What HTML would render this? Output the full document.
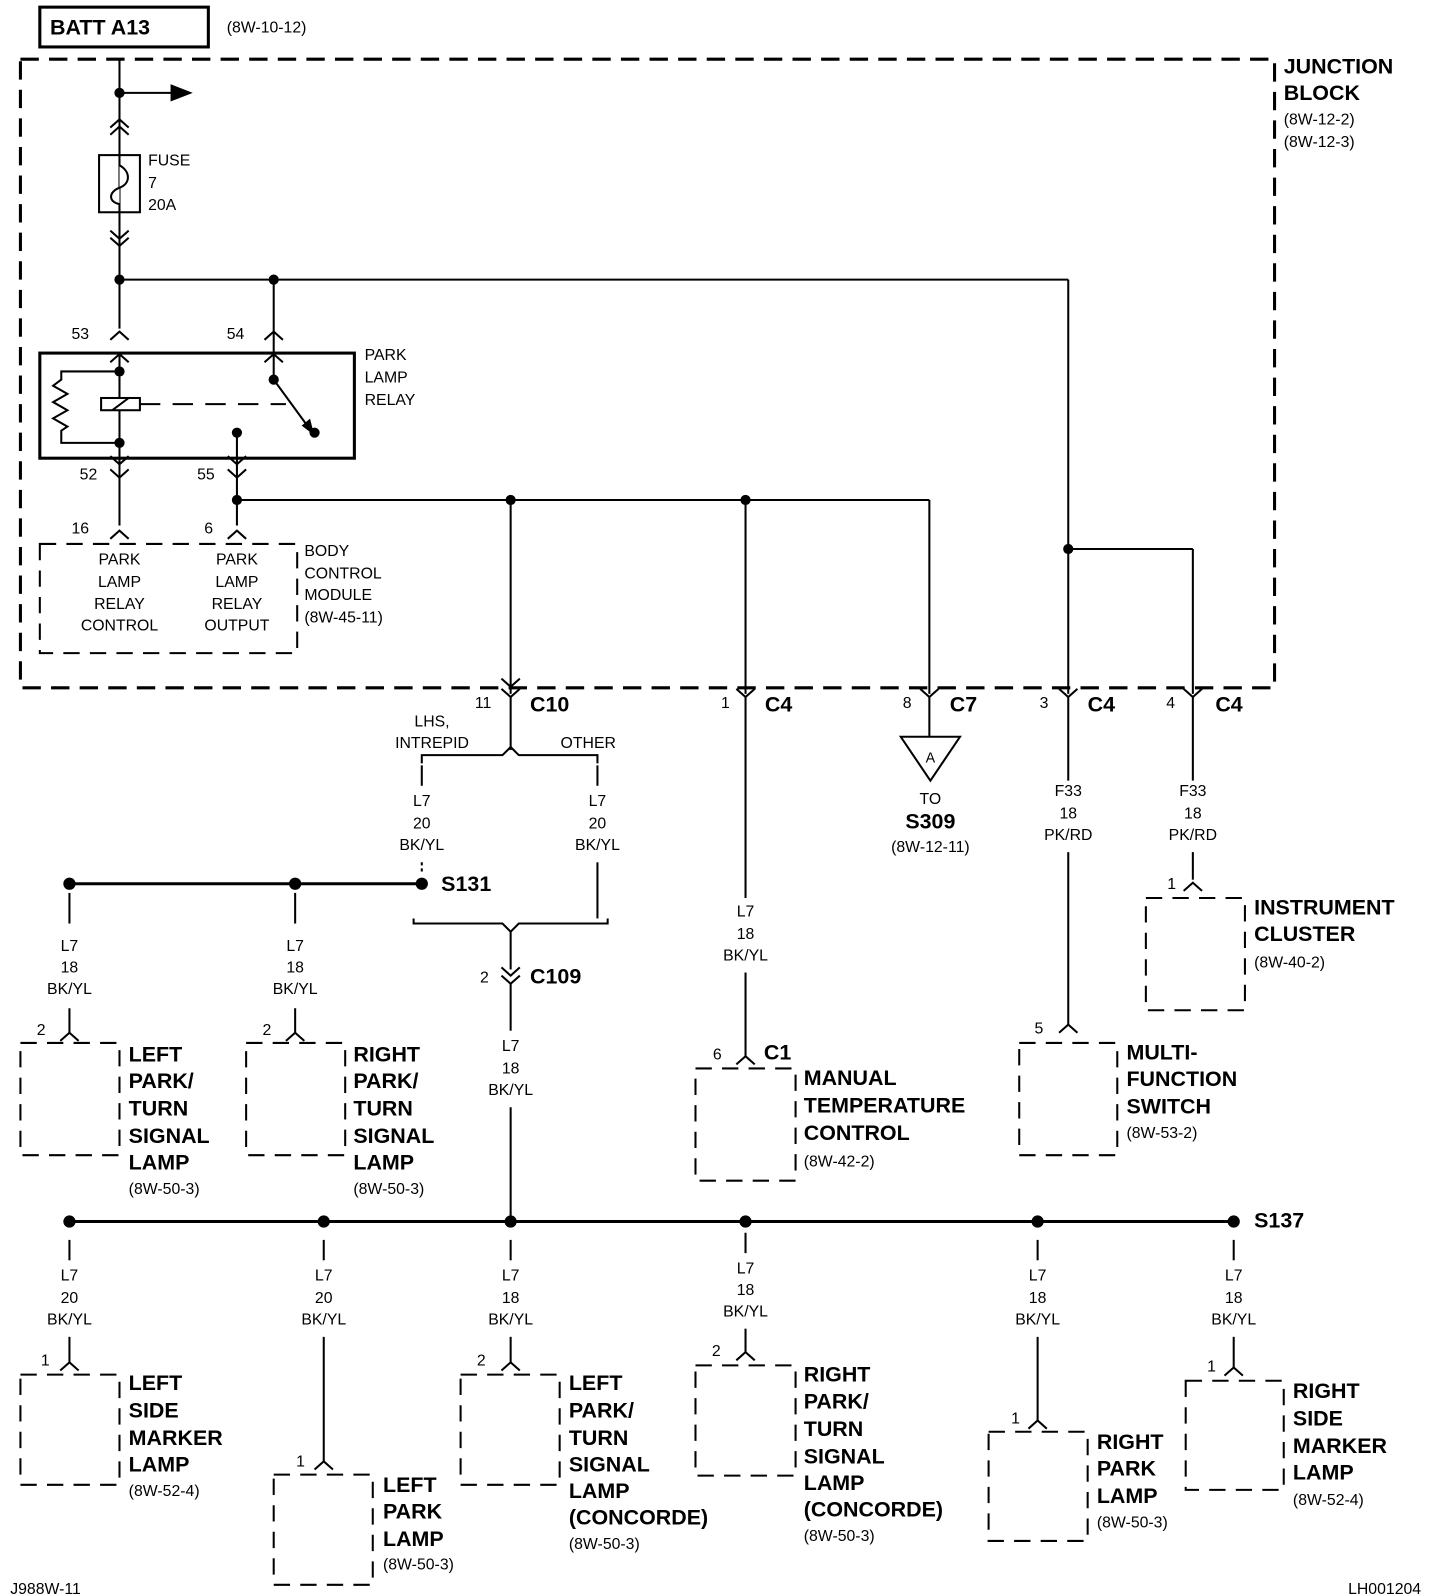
<!DOCTYPE html>
<html><head><meta charset="utf-8"><style>
html,body{margin:0;padding:0;background:#fff;}
svg{display:block;}
text{font-family:"Liberation Sans",Arial,sans-serif;fill:#000;}
.b{font-weight:bold;font-size:21px;}
.s{font-size:15.5px;}
.c{text-anchor:middle;}
</style></head><body>
<svg width="1440" height="1594" viewBox="0 0 1410 1562" preserveAspectRatio="none" xmlns="http://www.w3.org/2000/svg">
<g stroke="#000" fill="none" stroke-width="2">
<!-- BATT box -->
<rect x="39" y="7" width="165" height="39" stroke-width="3"/>
<!-- junction block -->
<rect x="20" y="58" width="1228" height="616" stroke-width="3" stroke-dasharray="18 10"/>
<!-- main feed -->
<line x1="117" y1="58" x2="117" y2="322"/>
<line x1="117" y1="91" x2="170" y2="91"/>
<polygon points="168,84 186,91 168,98" fill="#000"/>
<polyline points="108,125 117,117 126,125"/><polyline points="108,132 117,124 126,132"/>
<rect x="97" y="152" width="40" height="56"/>
<path d="M117 152 V162 C128 168,128 180,117 184 C106 188,106 198,117 200 V208" fill="#fff"/>
<polyline points="108,226 117,234 126,226"/><polyline points="108,233 117,241 126,233"/>
<line x1="117" y1="274" x2="1046" y2="274"/>
<line x1="268" y1="274" x2="268" y2="340"/>
<line x1="1046" y1="274" x2="1046" y2="680"/>
<polyline points="108,333 117,325 126,333"/><polyline points="259,333 268,325 277,333"/>
<!-- relay -->
<rect x="39" y="346" width="308" height="103" stroke-width="3"/>
<line x1="117" y1="346" x2="117" y2="455"/>
<polyline points="108,355 117,347 126,355"/><polyline points="259,355 268,347 277,355"/>
<polyline points="117,364 60,364 60,372 52,378 66,386 52,394 66,402 52,410 66,418 60,422 60,434 117,434"/>
<rect x="99" y="390" width="38" height="12" fill="#fff"/>
<line x1="110" y1="402" x2="126" y2="390"/>
<line x1="137" y1="396" x2="280" y2="396" stroke-dasharray="20 12"/>
<line x1="268" y1="340" x2="268" y2="372"/>
<line x1="268" y1="372" x2="303" y2="420"/>
<polygon points="297,417 306,424 303,412" fill="#000"/>
<line x1="232" y1="424" x2="232" y2="515"/>
<polyline points="108,447 117,455 126,447"/><polyline points="223,447 232,455 241,447"/>
<polyline points="108,460 117,468 126,460"/><polyline points="223,460 232,468 241,460"/>
<line x1="117" y1="455" x2="117" y2="515"/>
<polyline points="108,528 117,520 126,528"/><polyline points="223,528 232,520 241,528"/>
<rect x="39" y="533" width="252" height="107" stroke-dasharray="16 10"/>
<!-- BCM output bus -->
<line x1="232" y1="490" x2="910" y2="490"/>
<line x1="500" y1="490" x2="500" y2="680"/>
<line x1="730" y1="490" x2="730" y2="680"/>
<line x1="910" y1="490" x2="910" y2="680"/>
<line x1="1046" y1="538" x2="1168" y2="538"/>
<line x1="1168" y1="538" x2="1168" y2="680"/>
<!-- bottom connectors -->
<polyline points="491,665 500,673 509,665"/><polyline points="491,675 500,683 509,675"/>
<polyline points="721,675 730,683 739,675"/>
<polyline points="901,675 910,683 919,675"/>
<polyline points="1037,675 1046,683 1055,675"/>
<polyline points="1159,675 1168,683 1177,675"/>
<line x1="730" y1="683" x2="730" y2="880"/>
<line x1="910" y1="683" x2="910" y2="722"/>
<polygon points="882,722 940,722 911,765"/>
<line x1="1046" y1="683" x2="1046" y2="765"/>
<line x1="1046" y1="835" x2="1046" y2="1005"/>
<line x1="1168" y1="683" x2="1168" y2="765"/>
<line x1="1168" y1="835" x2="1168" y2="862"/>
<polyline points="1037,1012 1046,1004 1055,1012"/>
<polyline points="1159,873 1168,865 1177,873"/>
<rect x="998" y="1022" width="96" height="110" stroke-dasharray="16 10"/>
<rect x="1122" y="880" width="97" height="110" stroke-dasharray="16 10"/>
<!-- C10 split -->
<line x1="500" y1="683" x2="500" y2="735"/>
<path d="M413 748 V740 H492 L500 732 L508 740 H585 V748"/>
<line x1="413" y1="750" x2="413" y2="770"/><line x1="585" y1="750" x2="585" y2="770"/>
<line x1="413" y1="845" x2="413" y2="855" stroke-dasharray="3 3"/>
<line x1="585" y1="845" x2="585" y2="900"/>
<path d="M405 900 V905 H492 L500 913 L508 905 H595 V900"/>
<line x1="500" y1="913" x2="500" y2="950"/>
<polyline points="491,948 500,956 509,948"/><polyline points="491,956 500,964 509,956"/>
<line x1="500" y1="964" x2="500" y2="1010"/>
<line x1="500" y1="1085" x2="500" y2="1197"/>
<!-- S131 -->
<line x1="68" y1="866" x2="413" y2="866" stroke-width="3"/>
<line x1="68" y1="875" x2="68" y2="905"/><line x1="289" y1="875" x2="289" y2="905"/>
<line x1="68" y1="988" x2="68" y2="1012"/><line x1="289" y1="988" x2="289" y2="1012"/>
<polyline points="59,1020 68,1012 77,1020"/><polyline points="280,1020 289,1012 298,1020"/>
<rect x="20" y="1022" width="97" height="110" stroke-dasharray="16 10"/>
<rect x="241" y="1022" width="97" height="110" stroke-dasharray="16 10"/>
<!-- C1 -->
<line x1="730" y1="953" x2="730" y2="1035"/>
<polyline points="721,1043 730,1035 739,1043"/>
<rect x="681" y="1047" width="98" height="110" stroke-dasharray="16 10"/>
<!-- S137 bus -->
<line x1="68" y1="1197" x2="1208" y2="1197" stroke-width="3"/>
<line x1="68" y1="1215" x2="68" y2="1235"/><line x1="317" y1="1215" x2="317" y2="1235"/>
<line x1="500" y1="1215" x2="500" y2="1235"/><line x1="730" y1="1208" x2="730" y2="1228"/>
<line x1="1016" y1="1215" x2="1016" y2="1235"/><line x1="1208" y1="1215" x2="1208" y2="1235"/>
<line x1="68" y1="1310" x2="68" y2="1335"/>
<line x1="317" y1="1310" x2="317" y2="1432"/>
<line x1="500" y1="1310" x2="500" y2="1335"/>
<line x1="730" y1="1302" x2="730" y2="1325"/>
<line x1="1016" y1="1310" x2="1016" y2="1392"/>
<line x1="1208" y1="1310" x2="1208" y2="1340"/>
<polyline points="59,1343 68,1335 77,1343"/>
<polyline points="308,1440 317,1432 326,1440"/>
<polyline points="491,1343 500,1335 509,1343"/>
<polyline points="721,1333 730,1325 739,1333"/>
<polyline points="1007,1400 1016,1392 1025,1400"/>
<polyline points="1199,1348 1208,1340 1217,1348"/>
<rect x="20" y="1347" width="97" height="108" stroke-dasharray="16 10"/>
<rect x="268" y="1445" width="97" height="108" stroke-dasharray="16 10"/>
<rect x="451" y="1347" width="97" height="108" stroke-dasharray="16 10"/>
<rect x="681" y="1338" width="98" height="108" stroke-dasharray="16 10"/>
<rect x="968" y="1403" width="97" height="107" stroke-dasharray="16 10"/>
<rect x="1161" y="1353" width="96" height="107" stroke-dasharray="16 10"/>
</g>
<g fill="#000">
<circle cx="117" cy="91" r="5"/><circle cx="117" cy="274" r="5"/><circle cx="268" cy="274" r="5"/>
<circle cx="117" cy="364" r="5"/><circle cx="117" cy="434" r="5"/><circle cx="268" cy="372" r="5"/>
<circle cx="308" cy="424" r="5"/><circle cx="232" cy="424" r="5"/>
<circle cx="232" cy="490" r="5"/><circle cx="500" cy="490" r="5"/><circle cx="730" cy="490" r="5"/><circle cx="1046" cy="538" r="5"/>
<circle cx="68" cy="866" r="6"/><circle cx="289" cy="866" r="6"/><circle cx="413" cy="866" r="6"/>
<circle cx="68" cy="1197" r="6"/><circle cx="317" cy="1197" r="6"/><circle cx="500" cy="1197" r="6"/>
<circle cx="730" cy="1197" r="6"/><circle cx="1016" cy="1197" r="6"/><circle cx="1208" cy="1197" r="6"/>
</g>
<text class="b" x="49" y="34">BATT A13</text>
<text class="s" x="222" y="32">(8W-10-12)</text>
<text class="b" x="1257" y="72">JUNCTION</text><text class="b" x="1257" y="98">BLOCK</text>
<text class="s" x="1257" y="122">(8W-12-2)</text><text class="s" x="1257" y="144">(8W-12-3)</text>
<text class="s" x="145" y="162">FUSE</text><text class="s" x="145" y="184">7</text><text class="s" x="145" y="206">20A</text>
<text class="s" x="70" y="332">53</text><text class="s" x="222" y="332">54</text>
<text class="s" x="357" y="353">PARK</text><text class="s" x="357" y="375">LAMP</text><text class="s" x="357" y="397">RELAY</text>
<text class="s" x="78" y="470">52</text><text class="s" x="193" y="470">55</text>
<text class="s" x="70" y="523">16</text><text class="s" x="200" y="523">6</text>
<g class="s c">
<text class="s c" x="117" y="553">PARK</text><text class="s c" x="117" y="575">LAMP</text><text class="s c" x="117" y="597">RELAY</text><text class="s c" x="117" y="618">CONTROL</text>
<text class="s c" x="232" y="553">PARK</text><text class="s c" x="232" y="575">LAMP</text><text class="s c" x="232" y="597">RELAY</text><text class="s c" x="232" y="618">OUTPUT</text>
</g>
<text class="s" x="298" y="545">BODY</text><text class="s" x="298" y="567">CONTROL</text><text class="s" x="298" y="588">MODULE</text><text class="s" x="298" y="610">(8W-45-11)</text>
<text class="s" x="465" y="694">11</text><text class="b" x="519" y="697">C10</text>
<text class="s" x="706" y="694">1</text><text class="b" x="749" y="697">C4</text>
<text class="s" x="884" y="694">8</text><text class="b" x="930" y="697">C7</text>
<text class="s" x="1018" y="694">3</text><text class="b" x="1065" y="697">C4</text>
<text class="s" x="1142" y="694">4</text><text class="b" x="1190" y="697">C4</text>
<text class="s c" x="423" y="712">LHS,</text><text class="s c" x="423" y="733">INTREPID</text><text class="s c" x="576" y="733">OTHER</text>
<text class="s c" x="413" y="790">L7</text><text class="s c" x="413" y="812">20</text><text class="s c" x="413" y="833">BK/YL</text>
<text class="s c" x="585" y="790">L7</text><text class="s c" x="585" y="812">20</text><text class="s c" x="585" y="833">BK/YL</text>
<text class="b" x="432" y="873">S131</text>
<text class="s" x="470" y="963">2</text><text class="b" x="519" y="964">C109</text>
<text class="s c" x="500" y="1030">L7</text><text class="s c" x="500" y="1052">18</text><text class="s c" x="500" y="1073">BK/YL</text>
<text class="s c" x="730" y="898">L7</text><text class="s c" x="730" y="920">18</text><text class="s c" x="730" y="941">BK/YL</text>
<text class="s c" x="911" y="747" style="font-size:14px">A</text>
<text class="s c" x="911" y="788">TO</text><text class="b c" x="911" y="812">S309</text><text class="s c" x="911" y="835">(8W-12-11)</text>
<text class="s c" x="1046" y="780">F33</text><text class="s c" x="1046" y="802">18</text><text class="s c" x="1046" y="823">PK/RD</text>
<text class="s c" x="1168" y="780">F33</text><text class="s c" x="1168" y="802">18</text><text class="s c" x="1168" y="823">PK/RD</text>
<text class="s" x="1143" y="871">1</text>
<text class="b" x="1228" y="896">INSTRUMENT</text><text class="b" x="1228" y="922">CLUSTER</text><text class="s" x="1228" y="948">(8W-40-2)</text>
<text class="s" x="1013" y="1013">5</text>
<text class="b" x="1103" y="1038">MULTI-</text><text class="b" x="1103" y="1064">FUNCTION</text><text class="b" x="1103" y="1091">SWITCH</text><text class="s" x="1103" y="1115">(8W-53-2)</text>
<text class="s" x="698" y="1038">6</text><text class="b" x="748" y="1038">C1</text>
<text class="b" x="787" y="1063">MANUAL</text><text class="b" x="787" y="1090">TEMPERATURE</text><text class="b" x="787" y="1117">CONTROL</text><text class="s" x="787" y="1143">(8W-42-2)</text>
<text class="s c" x="68" y="932">L7</text><text class="s c" x="68" y="953">18</text><text class="s c" x="68" y="974">BK/YL</text>
<text class="s c" x="289" y="932">L7</text><text class="s c" x="289" y="953">18</text><text class="s c" x="289" y="974">BK/YL</text>
<text class="s" x="36" y="1014">2</text><text class="s" x="257" y="1014">2</text>
<text class="b" x="126" y="1040">LEFT</text><text class="b" x="126" y="1066">PARK/</text><text class="b" x="126" y="1093">TURN</text><text class="b" x="126" y="1120">SIGNAL</text><text class="b" x="126" y="1146">LAMP</text><text class="s" x="126" y="1170">(8W-50-3)</text>
<text class="b" x="346" y="1040">RIGHT</text><text class="b" x="346" y="1066">PARK/</text><text class="b" x="346" y="1093">TURN</text><text class="b" x="346" y="1120">SIGNAL</text><text class="b" x="346" y="1146">LAMP</text><text class="s" x="346" y="1170">(8W-50-3)</text>
<text class="b" x="1228" y="1203">S137</text>
<text class="s c" x="68" y="1255">L7</text><text class="s c" x="68" y="1277">20</text><text class="s c" x="68" y="1298">BK/YL</text>
<text class="s c" x="317" y="1255">L7</text><text class="s c" x="317" y="1277">20</text><text class="s c" x="317" y="1298">BK/YL</text>
<text class="s c" x="500" y="1255">L7</text><text class="s c" x="500" y="1277">18</text><text class="s c" x="500" y="1298">BK/YL</text>
<text class="s c" x="730" y="1248">L7</text><text class="s c" x="730" y="1269">18</text><text class="s c" x="730" y="1290">BK/YL</text>
<text class="s c" x="1016" y="1255">L7</text><text class="s c" x="1016" y="1277">18</text><text class="s c" x="1016" y="1298">BK/YL</text>
<text class="s c" x="1208" y="1255">L7</text><text class="s c" x="1208" y="1277">18</text><text class="s c" x="1208" y="1298">BK/YL</text>
<text class="s" x="40" y="1338">1</text>
<text class="b" x="126" y="1362">LEFT</text><text class="b" x="126" y="1389">SIDE</text><text class="b" x="126" y="1416">MARKER</text><text class="b" x="126" y="1442">LAMP</text><text class="s" x="126" y="1466">(8W-52-4)</text>
<text class="s" x="290" y="1437">1</text>
<text class="b" x="375" y="1462">LEFT</text><text class="b" x="375" y="1488">PARK</text><text class="b" x="375" y="1515">LAMP</text><text class="s" x="375" y="1538">(8W-50-3)</text>
<text class="s" x="467" y="1338">2</text>
<text class="b" x="557" y="1362">LEFT</text><text class="b" x="557" y="1389">PARK/</text><text class="b" x="557" y="1416">TURN</text><text class="b" x="557" y="1442">SIGNAL</text><text class="b" x="557" y="1468">LAMP</text><text class="b" x="557" y="1494">(CONCORDE)</text><text class="s" x="557" y="1518">(8W-50-3)</text>
<text class="s" x="697" y="1329">2</text>
<text class="b" x="787" y="1354">RIGHT</text><text class="b" x="787" y="1380">PARK/</text><text class="b" x="787" y="1407">TURN</text><text class="b" x="787" y="1434">SIGNAL</text><text class="b" x="787" y="1460">LAMP</text><text class="b" x="787" y="1486">(CONCORDE)</text><text class="s" x="787" y="1510">(8W-50-3)</text>
<text class="s" x="990" y="1395">1</text>
<text class="b" x="1074" y="1420">RIGHT</text><text class="b" x="1074" y="1446">PARK</text><text class="b" x="1074" y="1473">LAMP</text><text class="s" x="1074" y="1497">(8W-50-3)</text>
<text class="s" x="1182" y="1344">1</text>
<text class="b" x="1266" y="1370">RIGHT</text><text class="b" x="1266" y="1397">SIDE</text><text class="b" x="1266" y="1424">MARKER</text><text class="b" x="1266" y="1450">LAMP</text><text class="s" x="1266" y="1475">(8W-52-4)</text>
<text class="s" x="10" y="1562">J988W-11</text>
<text class="s" x="1320" y="1562">LH001204</text>
</svg>
</body></html>
